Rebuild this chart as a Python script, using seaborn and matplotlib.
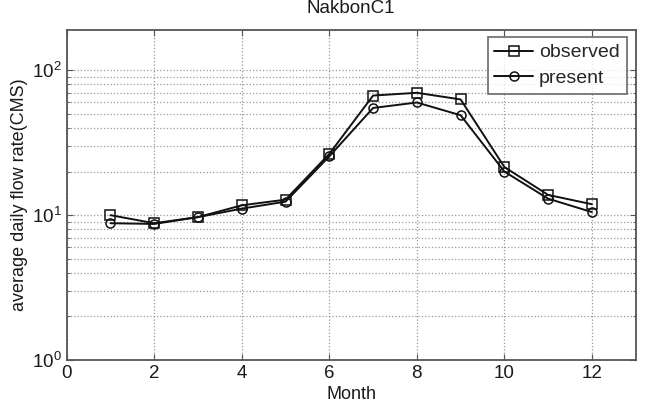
import matplotlib
matplotlib.use("Agg")
import matplotlib.pyplot as plt
import seaborn as sns
import numpy as np
import pandas as pd
from matplotlib.ticker import LogLocator, FixedLocator

months = [1, 2, 3, 4, 5, 6, 7, 8, 9, 10, 11, 12]
observed = [10.0, 8.8, 9.7, 11.7, 12.8, 26.5, 67.0, 70.0, 63.0, 21.5, 13.8, 11.9]
present = [8.8, 8.7, 9.7, 11.1, 12.4, 25.5, 55.0, 60.0, 49.0, 20.0, 13.0, 10.5]
title = "NakbonC1"
xlabel = "Month"
ylabel = "average daily flow rate(CMS)"
xticks = [0, 2, 4, 6, 8, 10, 12]

sns.set_style("white")
plt.rcParams['font.family'] = ['Liberation Sans', 'DejaVu Sans']

fig = plt.figure(figsize=(6.49, 4.11), dpi=100)
ax = fig.add_axes([66.7/649, 1-360/411, (635.7-66.7)/649, (360-30)/411])

df_obs = pd.DataFrame({"Month": months, "flow": observed})
df_pre = pd.DataFrame({"Month": months, "flow": present})

sns.lineplot(data=df_obs, x="Month", y="flow", ax=ax, color="#111111", lw=1.4,
             marker="s", markersize=6.5, markerfacecolor="none",
             markeredgecolor="#111111", markeredgewidth=1.1, label="observed")
sns.lineplot(data=df_pre, x="Month", y="flow", ax=ax, color="#111111", lw=1.4,
             marker="o", markersize=6.5, markerfacecolor="none",
             markeredgecolor="#111111", markeredgewidth=1.1, label="present")

ax.set_yscale("log")
ax.set_xlim(0, 13)
ax.set_ylim(1, 190)
ax.xaxis.set_major_locator(FixedLocator(xticks))
ax.yaxis.set_major_locator(LogLocator(base=10, numticks=10))
ax.yaxis.set_minor_locator(LogLocator(base=10, subs=np.arange(2, 10), numticks=10))

ax.grid(True, which="major", axis="x", ls=":", color="#999999", lw=0.9)
ax.grid(True, which="both", axis="y", ls=":", color="#999999", lw=0.9)

for s in ax.spines.values():
    s.set_color("#555555")
    s.set_linewidth(1.3)

ax.tick_params(axis="both", which="major", direction="in", length=4, width=0.8,
               colors="#555555", labelcolor="#1a1a1a", labelsize=13.5,
               top=True, right=True, left=True, bottom=True)
ax.tick_params(axis="y", which="minor", direction="in", length=2, width=0.6,
               colors="#555555", left=True, right=True)

ax.set_xlabel(xlabel, fontsize=13, color="#1a1a1a", labelpad=3)
ax.set_ylabel(ylabel, fontsize=13, color="#1a1a1a", labelpad=3)
ax.set_title(title, fontsize=13.5, color="#1a1a1a", pad=12)

leg = ax.legend(loc="upper right", bbox_to_anchor=(0.984, 0.979), fontsize=14,
                frameon=True, fancybox=False, edgecolor="#444444",
                handlelength=2.0, handletextpad=0.3, borderpad=0.35,
                labelspacing=0.4, borderaxespad=0.0)
leg.get_frame().set_linewidth(1.2)

fig.savefig("out.png", dpi=100)
